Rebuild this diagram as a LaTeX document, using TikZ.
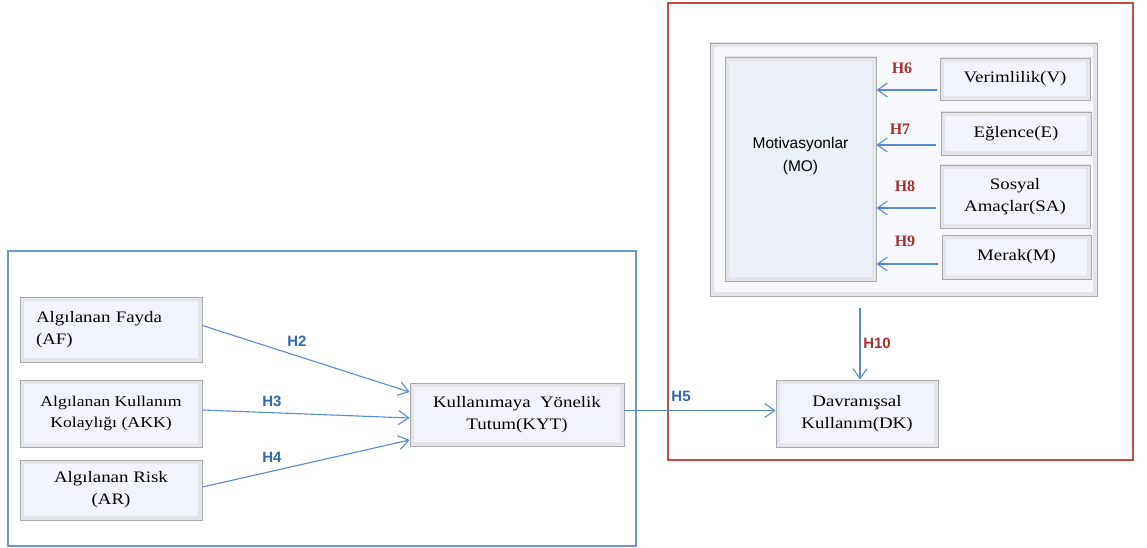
\documentclass[tikz,border=0pt]{standalone}
\usepackage{fontspec}
\setmainfont{Liberation Serif}[FakeStretch=1.18]
\newfontfamily\msans{Liberation Sans}
\newfontfamily\hserif{Liberation Serif}
\usetikzlibrary{arrows.meta}
\definecolor{blueline}{HTML}{5B8BCF}
\definecolor{bluelab}{HTML}{3566B0}
\definecolor{redlab}{HTML}{A8322F}
\definecolor{redframe}{HTML}{C9484A}
\definecolor{blueframe}{HTML}{6E98CD}
\definecolor{edgegray}{HTML}{A8AAAD}
\definecolor{bandgray}{HTML}{E3E5E9}
\definecolor{face}{HTML}{F1F4FA}
\definecolor{moface}{HTML}{ECF0F9}
\definecolor{contface}{HTML}{F6F8FB}
\tikzset{
  bevel/.style={draw=edgegray, line width=0.9pt, fill=face, inner sep=0pt,
    path picture={\draw[bandgray, line width=8pt] (path picture bounding box.south west) rectangle (path picture bounding box.north east);}},
  serif16/.style={font=\fontsize{16}{22}\selectfont, align=center},
  arr/.style={draw=blueline, line width=1.1pt, -{Straight Barb[length=10pt,width=14pt,line width=1.1pt]}},
  hblue/.style={text=bluelab, font=\msans\bfseries\fontsize{15}{15}\selectfont, inner sep=0pt},
  hred/.style={text=redlab, font=\hserif\bfseries\fontsize{16}{16}\selectfont, inner sep=0pt},
  hredsans/.style={text=redlab, font=\msans\bfseries\fontsize{15}{15}\selectfont, inner sep=0pt},
}
\begin{document}
\begin{tikzpicture}[x=1pt,y=-1pt]
\useasboundingbox[fill=white] (0,0) rectangle (1147,548);
% group frames
\draw[blueframe, line width=1.1pt] (8,251) rectangle (636,546);
\draw[redframe, line width=1.1pt] (668,3) rectangle (1133,460);

% left group
\node[bevel, minimum width=182pt, minimum height=65pt, text width=150pt, inner xsep=16pt,
      font=\fontsize{16}{22}\selectfont, align=left] (AF) at (111,329.5) {Algılanan Fayda\\(AF)};
\node[bevel, minimum width=182pt, minimum height=67pt,
      font=\fontsize{15}{21}\selectfont, align=center] (AKK) at (111,413.5) {Algılanan Kullanım\\Kolaylığı (AKK)};
\node[bevel, minimum width=182pt, minimum height=60pt, serif16] (AR) at (111,490) {Algılanan Risk\\(AR)};
\node[bevel, minimum width=214pt, minimum height=63pt, serif16] (KYT) at (517,414.5) {Kullanımaya\ \ Yönelik\\Tutum(KYT)};

% right group
\node[bevel, fill=contface, minimum width=387pt, minimum height=253pt] (MOC) at (903.5,169.5) {};
\node[bevel, fill=moface, minimum width=151pt, minimum height=224pt] (MO) at (800.5,169) {};
\node[font=\msans\fontsize{15.5}{23}\selectfont, align=center, inner sep=0pt] (MOtext) at (800.5,156) {Motivasyonlar\\(MO)};
\node[bevel, minimum width=150pt, minimum height=42pt, serif16] (V) at (1015,79) {Verimlilik(V)};
\node[bevel, minimum width=150pt, minimum height=43pt, serif16] (E) at (1016,133.5) {Eğlence(E)};
\node[bevel, minimum width=150pt, minimum height=63pt, serif16] (SA) at (1015,196.5) {Sosyal\\Amaçlar(SA)};
\node[bevel, minimum width=149pt, minimum height=44pt, serif16] (M) at (1016.5,257) {Merak(M)};
\node[bevel, minimum width=162pt, minimum height=67pt, serif16] (DK) at (857,413.5) {Davranışsal\\Kullanım(DK)};

% connectors left
\draw[arr] ([yshift=4pt]AF.east) -- ([yshift=22.5pt]KYT.west);
\draw[arr] ([yshift=3.5pt]AKK.east) -- ([yshift=-3.5pt]KYT.west);
\draw[arr] ([yshift=3pt]AR.east) -- ([yshift=-25.5pt]KYT.west);
\draw[arr] ([yshift=4pt]KYT.east) -- ([yshift=4pt]KYT.east -| DK.west);

% connectors right
\draw[arr] ([xshift=-3pt,yshift=-11pt]V.west) -- ([yshift=-11pt]V.west -| MO.east);
\draw[arr] ([xshift=-5pt,yshift=-11.5pt]E.west) -- ([yshift=-11.5pt]E.west -| MO.east);
\draw[arr] ([xshift=-4pt,yshift=-11.5pt]SA.west) -- ([yshift=-11.5pt]SA.west -| MO.east);
\draw[arr] ([xshift=-4pt,yshift=-7pt]M.west) -- ([yshift=-7pt]M.west -| MO.east);
\coordinate (h10s) at (860,308);
\draw[arr] (h10s) -- (h10s |- DK.north);

% labels
\node[hblue] (H2) at (297,341) {H2};
\node[hblue] (H3) at (272,401) {H3};
\node[hblue] (H4) at (272,457) {H4};
\node[hblue] (H5) at (681,396) {H5};
\node[hred] (H6) at (902,68) {H6};
\node[hred] (H7) at (900,129) {H7};
\node[hred] (H8) at (905,186) {H8};
\node[hred] (H9) at (905,241) {H9};
\node[hredsans] (H10) at (877,343) {H10};
\end{tikzpicture}
\end{document}
